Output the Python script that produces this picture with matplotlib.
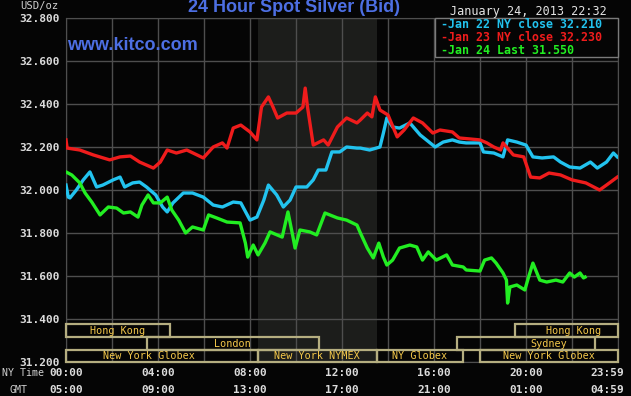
import matplotlib
matplotlib.use("Agg")
import matplotlib.pyplot as plt
from matplotlib.patches import Rectangle
from matplotlib import transforms

# ---------------- data ----------------
red_hours = [0, 0.05, 0.6, 1.19, 1.9, 2.35, 2.8, 3.2, 3.8, 4.1,
             4.4, 4.8, 5.25, 5.7, 5.97, 6.4, 6.8, 7.0, 7.27, 7.6,
             8.0, 8.3, 8.5, 8.8, 9.0, 9.2, 9.6, 10.0, 10.3, 10.4,
             10.5, 10.75, 11.2, 11.4, 11.8, 12.2, 12.65, 12.8, 13.1, 13.3,
             13.45, 13.65, 14.0, 14.4, 14.7, 15.1, 15.5, 15.95, 16.26, 16.8,
             17.1, 18.0, 18.3, 18.6, 18.9, 19.0, 19.45, 19.9, 20.2, 20.6,
             21.0, 21.5, 22.0, 22.6, 23.2, 23.5, 23.97]
red_values = [32.233, 32.195, 32.186, 32.163, 32.140, 32.154, 32.158, 32.130, 32.102, 32.130,
              32.186, 32.172, 32.186, 32.163, 32.149, 32.200, 32.219, 32.195, 32.288, 32.302,
              32.270, 32.233, 32.386, 32.433, 32.386, 32.335, 32.358, 32.358, 32.386, 32.474,
              32.386, 32.209, 32.233, 32.209, 32.293, 32.335, 32.312, 32.326, 32.358, 32.340,
              32.433, 32.372, 32.349, 32.247, 32.279, 32.335, 32.312, 32.265, 32.279, 32.270,
              32.242, 32.233, 32.219, 32.200, 32.186, 32.219, 32.163, 32.154, 32.060, 32.056,
              32.079, 32.070, 32.047, 32.033, 32.000, 32.023, 32.060]

cyan_hours = [0, 0.1, 0.17, 0.45, 0.75, 1.04, 1.33, 1.6, 2.05, 2.35,
              2.55, 2.9, 3.2, 3.5, 3.9, 4.2, 4.4, 4.65, 5.1, 5.5,
              5.97, 6.4, 6.8, 7.27, 7.6, 8.0, 8.3, 8.6, 8.8, 9.16,
              9.45, 9.74, 10.0, 10.47, 10.75, 10.97, 11.3, 11.56, 11.9, 12.2,
              12.65, 12.8, 13.2, 13.65, 13.8, 13.95, 14.2, 14.5, 14.95, 15.4,
              16.05, 16.4, 16.8, 17.1, 17.4, 18.0, 18.15, 18.6, 19.0, 19.2,
              19.6, 20.0, 20.3, 20.7, 21.2, 21.5, 21.9, 22.35, 22.8, 23.1,
              23.5, 23.8, 23.97]
cyan_values = [32.023, 31.967, 31.963, 32.000, 32.047, 32.084, 32.014, 32.023, 32.047, 32.060,
               32.014, 32.033, 32.037, 32.014, 31.977, 31.921, 31.898, 31.940, 31.986, 31.986,
               31.967, 31.930, 31.921, 31.944, 31.940, 31.860, 31.874, 31.953, 32.023, 31.977,
               31.921, 31.953, 32.014, 32.014, 32.047, 32.093, 32.093, 32.177, 32.177, 32.200,
               32.195, 32.195, 32.186, 32.200, 32.265, 32.335, 32.293, 32.288, 32.312, 32.256,
               32.200, 32.223, 32.233, 32.223, 32.219, 32.219, 32.177, 32.172, 32.154, 32.233,
               32.223, 32.209, 32.154, 32.149, 32.154, 32.130, 32.107, 32.102, 32.130, 32.102,
               32.130, 32.172, 32.154]

green_hours = [0, 0.25, 0.6, 0.83, 1.12, 1.48, 1.84, 2.2, 2.5, 2.8,
               3.13, 3.3, 3.57, 3.8, 4.1, 4.4, 4.6, 4.9, 5.2, 5.5,
               5.97, 6.2, 6.55, 7.0, 7.57, 7.8, 7.9, 8.14, 8.35, 8.65,
               8.87, 9.4, 9.65, 9.87, 9.96, 10.17, 10.6, 10.9, 11.26, 11.8,
               12.2, 12.65, 12.8, 13.1, 13.36, 13.6, 13.8, 13.95, 14.2, 14.5,
               14.95, 15.25, 15.5, 15.75, 16.1, 16.55, 16.8, 17.27, 17.4, 18.0,
               18.2, 18.5, 18.7, 19.0, 19.15, 19.2, 19.3, 19.6, 19.95, 20.1,
               20.3, 20.6, 20.9, 21.3, 21.6, 21.9, 22.1, 22.35, 22.5, 22.57]
green_values = [32.084, 32.070, 32.033, 31.986, 31.944, 31.884, 31.921, 31.916, 31.893, 31.898,
                31.874, 31.930, 31.977, 31.940, 31.940, 31.967, 31.907, 31.860, 31.800, 31.828,
                31.814, 31.884, 31.870, 31.851, 31.847, 31.753, 31.688, 31.744, 31.698, 31.753,
                31.805, 31.781, 31.898, 31.781, 31.730, 31.814, 31.805, 31.791, 31.893, 31.870,
                31.860, 31.837, 31.800, 31.730, 31.684, 31.753, 31.688, 31.651, 31.674, 31.730,
                31.744, 31.735, 31.674, 31.712, 31.674, 31.698, 31.651, 31.642, 31.628, 31.623,
                31.674, 31.684, 31.660, 31.614, 31.581, 31.474, 31.549, 31.558, 31.535, 31.591,
                31.660, 31.581, 31.572, 31.581, 31.572, 31.614, 31.595, 31.614, 31.591, 31.595]

legend_labels = ["Jan 22 NY close 32.210", "Jan 23 NY close 32.230", "Jan 24 Last 31.550"]

y_ticks = [31.2, 31.4, 31.6, 31.8, 32.0, 32.2, 32.4, 32.6, 32.8]
x_tick_hours = [0, 4, 8, 12, 16, 20, 24]
ny_labels = ["00:00", "04:00", "08:00", "12:00", "16:00", "20:00", "23:59"]
gmt_labels = ["05:00", "09:00", "13:00", "17:00", "21:00", "01:00", "04:59"]

nymex_start, nymex_end = 8.333, 13.5

session_rows = [0, 0, 1, 1, 2, 2, 2, 2]
session_starts = [0, 19.5, 3.5, 17.0, 0, 8.333, 13.5, 18.0]
session_ends = [4.5, 24, 11.0, 23.0, 8.333, 13.5, 17.25, 24]
session_names = ["Hong Kong", "Hong Kong", "London", "Sydney",
                 "New York Globex", "New York NYMEX", "NY Globex", "New York Globex"]

# ---------------- style ----------------
W, H = 631, 396
BG = "#050505"
GRID = "#4e4e4e"
TXT = "#dcdcdc"
BLUE = "#4d6fe3"
CYAN = "#22c3ef"
RED = "#ef1c1c"
GREEN = "#22ee22"
BOX = "#b5ae80"
SESS_TXT = "#f4c84a"
MONO = "DejaVu Sans Mono"

fig = plt.figure(figsize=(W / 100, H / 100), dpi=100, facecolor=BG)
ax = fig.add_axes([66 / W, 34 / H, 552 / W, 344 / H], facecolor=BG)

ax.set_xlim(0, 24)
ax.set_ylim(31.2, 32.8)

ax.axvspan(nymex_start, nymex_end, color="#1c1d1b", zorder=0, lw=0)

for h in range(0, 25, 2):
    ax.axvline(h, color=GRID, lw=1, zorder=1)
for v in y_ticks:
    ax.axhline(v, color=GRID, lw=1, zorder=1)

for s in ax.spines.values():
    s.set_color(GRID)

ax.set_yticks(y_ticks)
ax.set_yticklabels([f"{v:.3f}" for v in y_ticks], fontfamily=MONO,
                   fontweight="bold", fontsize=8, color=TXT)
ax.tick_params(axis="y", length=0, pad=4.5)
ax.set_xticks([])

# price lines
ax.plot(cyan_hours, cyan_values, color=CYAN, lw=2.4, zorder=3)
ax.plot(red_hours, red_values, color=RED, lw=2.4, zorder=4)
ax.plot(green_hours, green_values, color=GREEN, lw=2.4, zorder=5)

# session boxes
row_edges = [(31.316, 31.377), (31.256, 31.316), (31.2, 31.256)]
label_shift = {3: 1.0, 1: 0.3, 4: -0.55}
for i, (r, a, b, name) in enumerate(zip(session_rows, session_starts, session_ends, session_names)):
    y0, y1 = row_edges[r]
    ax.add_patch(Rectangle((a, y0), b - a, y1 - y0, fill=False, edgecolor=BOX,
                           lw=1.6, zorder=6, clip_on=False))
    ax.text((a + b) / 2 + label_shift.get(i, 0), (y0 + y1) / 2, name, ha="center",
            va="center", fontfamily=MONO, fontsize=7.3, color=SESS_TXT, zorder=7)

# x labels (two rows)
tr = transforms.blended_transform_factory(ax.transData, ax.transAxes)
for h, n, g in zip(x_tick_hours, ny_labels, gmt_labels):
    if h == 24:
        t2 = transforms.offset_copy(tr, fig=fig, x=6, y=0, units="dots")
        ha = "right"
    else:
        t2 = tr
        ha = "center"
    ax.text(h, -0.032, n, transform=t2, ha=ha, va="center", fontfamily=MONO,
            fontweight="bold", fontsize=8, color=TXT)
    ax.text(h, -0.081, g, transform=t2, ha=ha, va="center", fontfamily=MONO,
            fontweight="bold", fontsize=8, color=TXT)

fig.text(2 / W, 1 - 373 / H, "NY Time", ha="left", va="center", fontfamily=MONO,
         fontsize=7.2, color="#cfcfcf")
fig.text(19 / W, 1 - 390 / H, "GMT", ha="center", va="center", fontfamily=MONO,
         fontsize=7.2, color="#cfcfcf")
fig.text(20 / W, 1 - 6 / H, "USD/oz", ha="left", va="center", fontfamily=MONO,
         fontsize=7.6, color="#cfcfcf")

# title & branding
fig.text(293.5 / W, 1 - 8 / H, "24 Hour Spot Silver (Bid)", ha="center", va="center",
         fontfamily="Liberation Sans", fontweight="bold", fontsize=13, color=BLUE)
fig.text(67 / W, 1 - 46 / H, "www.kitco.com", ha="left", va="center",
         fontfamily="Liberation Sans", fontweight="bold", fontsize=13, color=BLUE)
fig.text(607 / W, 1 - 11 / H, "January 24, 2013 22:32", ha="right", va="center",
         fontfamily=MONO, fontsize=8.5, color="#e4e4e4")

# legend box
fig.patches.append(Rectangle((435 / W, 1 - 57 / H), (618 - 435) / W, (57 - 18) / H,
                             transform=fig.transFigure, facecolor=BG, edgecolor="#7a7a7a",
                             lw=1, zorder=10))
for lab, col, yp in zip(legend_labels, [CYAN, RED, GREEN], [25, 37.5, 50.5]):
    fig.text(441 / W, 1 - yp / H, "-" + lab, ha="left", va="center", fontfamily=MONO,
             fontweight="bold", fontsize=8.4, color=col, zorder=11)

fig.savefig("out.png", dpi=100, facecolor=BG)
